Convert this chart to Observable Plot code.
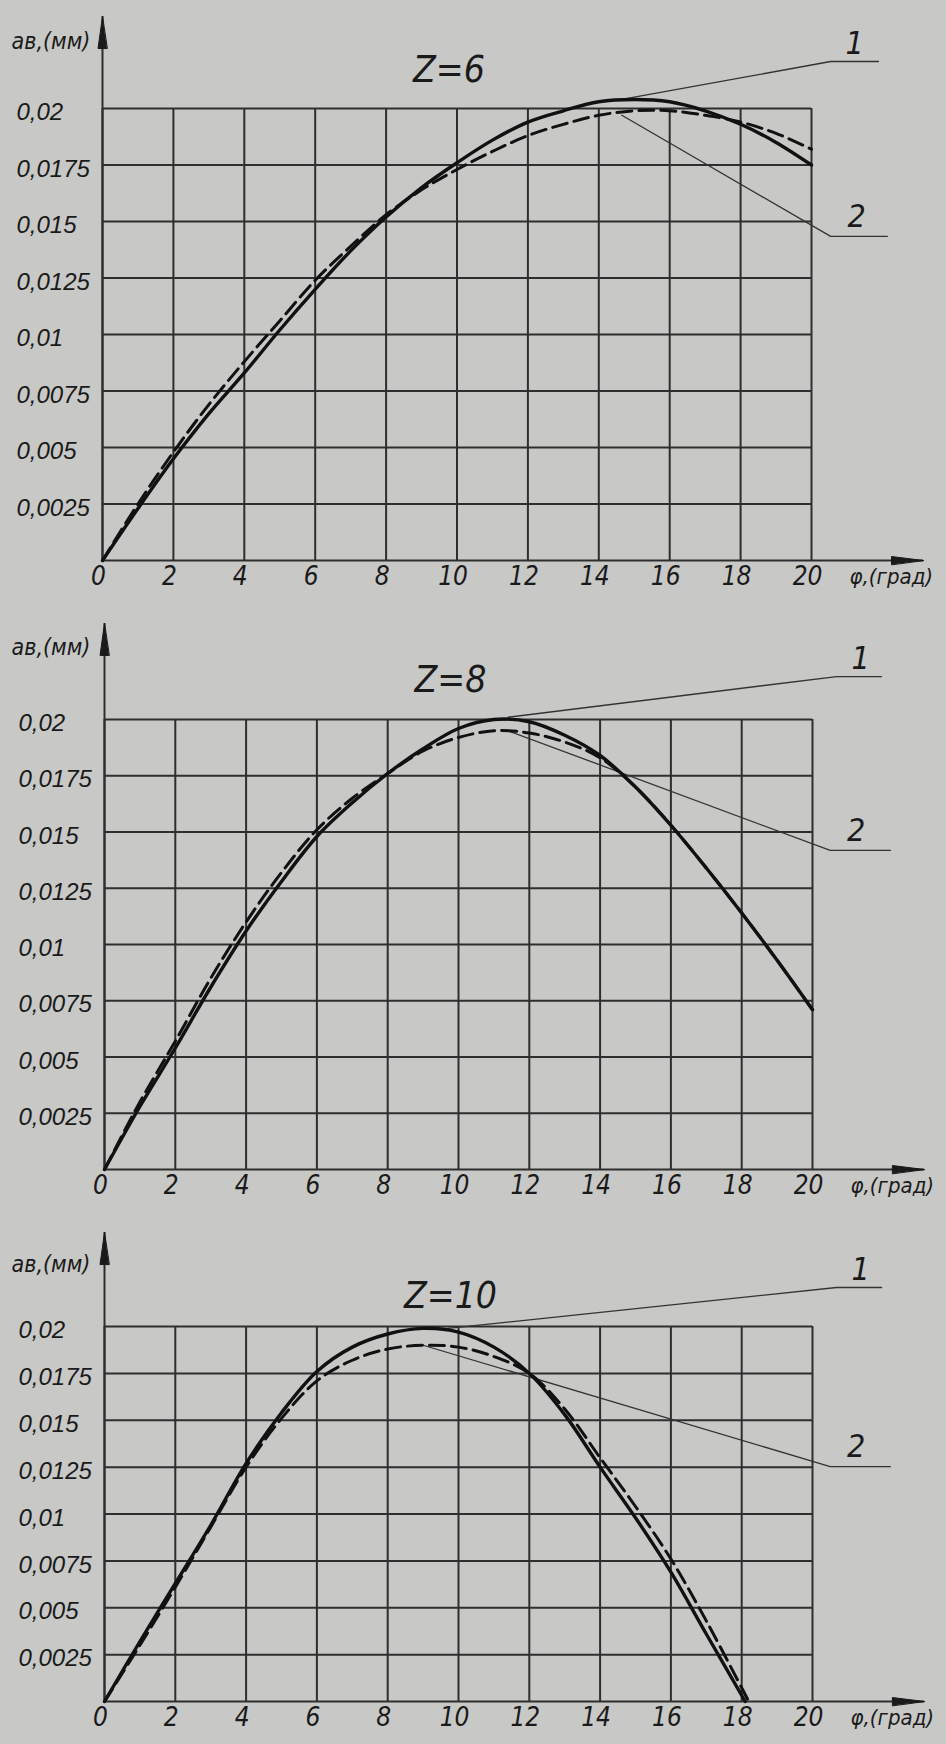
<!DOCTYPE html>
<html><head><meta charset="utf-8">
<script src="https://cdn.jsdelivr.net/npm/d3@7"></script>
<script src="https://cdn.jsdelivr.net/npm/@observablehq/plot@0.6"></script>
<style>
html,body{margin:0;padding:0;background:#c8c8c6;}
#charts{width:946px;}
#charts svg{display:block;}
</style></head><body><div id="charts"></div>
<script>
// ---- tick values and labels ----
const xTicks = [0, 2, 4, 6, 8, 10, 12, 14, 16, 18, 20];
const yTicks = [0.0025, 0.005, 0.0075, 0.01, 0.0125, 0.015, 0.0175, 0.02];
const yTickLabels = ["0,0025", "0,005", "0,0075", "0,01", "0,0125", "0,015", "0,0175", "0,02"];
const titles = ["Z=6", "Z=8", "Z=10"];
const yAxisLabel = "aв,(мм)";
const xAxisLabel = "φ,(град)";
const curveNames = ["1", "2"];

// ---- Z=6 ----
const z6Phi1 = [0,1,2,3,4,5,6,7,8,9,10,11,12,13,14,15,16,17,18,19,20];
const z6Curve1 = [0,0.0023,0.0045,0.0065,0.0083,0.0102,0.0120,0.0137,0.0152,0.0165,0.0176,0.0186,0.0194,0.0199,0.0203,0.0204,0.0203,0.0199,0.0193,0.0185,0.0175];
const z6Phi2 = [0,1,2,3,4,5,6,7,8,9,10,11,12,13,14,15,16,17,18,19,20];
const z6Curve2 = [0,0.0025,0.0048,0.0069,0.0088,0.0106,0.0124,0.0139,0.0153,0.0164,0.0173,0.0181,0.0188,0.0193,0.0197,0.0199,0.0199,0.0197,0.0194,0.0189,0.0182];
const z6Leader1 = [[14.65,0.0204],[20.54,0.02208],[21.89,0.02208]];
const z6Leader2 = [[14.65,0.0197],[20.54,0.01434],[22.14,0.01434]];

// ---- Z=8 ----
const z8Phi1 = [0,1,2,3,4,5,6,7,8,9,10,11,12,13,14,15,16,17,18,19,20];
const z8Curve1 = [0,0.0028,0.0054,0.0081,0.0106,0.0128,0.0148,0.0163,0.0176,0.0187,0.0196,0.0200,0.0199,0.0193,0.0184,0.0170,0.0153,0.0134,0.0114,0.0093,0.0071];
const z8Phi2 = [0,1,2,3,4,5,6,7,8,9,10,11,12,13,14,15,16,17,18,19,20];
const z8Curve2 = [0,0.0030,0.0057,0.0085,0.0110,0.0132,0.0151,0.0165,0.0176,0.0186,0.0192,0.0195,0.0194,0.0190,0.0183,0.0170,0.0153,0.0134,0.0114,0.0093,0.0071];
const z8Leader1 = [[11.4,0.0201],[20.68,0.02191],[21.95,0.02191]];
const z8Leader2 = [[11.4,0.0195],[20.5,0.01418],[22.2,0.01418]];

// ---- Z=10 ----
const z10Phi1 = [0,1,2,3,4,5,6,7,8,9,10,11,12,13,14,15,16,17,18.1];
const z10Curve1 = [0,0.0032,0.0063,0.0094,0.0127,0.0154,0.0176,0.0189,0.0196,0.0199,0.0197,0.0189,0.0175,0.0153,0.0125,0.0098,0.0069,0.0036,0];
const z10Phi2 = [0,1,2,3,4,5,6,7,8,9,10,11,12,13,14,15,16,17,18.2];
const z10Curve2 = [0,0.0030,0.0061,0.0093,0.0125,0.0151,0.0171,0.0182,0.0188,0.0190,0.0189,0.0184,0.0175,0.0156,0.0130,0.0104,0.0076,0.0043,0];
const z10Leader1 = [[9.7,0.0199],[20.68,0.02208],[21.95,0.02208]];
const z10Leader2 = [[9.0,0.0190],[20.5,0.01253],[22.2,0.01253]];

// axis arrow extents (data units)
const xAxisEnd = 23.16;
const yAxisEnds = [0.02407, 0.02427, 0.02501];

const narrow = "'Liberation Sans Narrow','Arial Narrow','DejaVu Sans Condensed',sans-serif";
const regular = "'Liberation Sans',Arial,sans-serif";
const ink = "#1a1a1a";

const arrowHead = {
  draw(ctx, l, r) {
    ctx.moveTo(0, -l);
    ctx.lineTo(-r, 0);
    ctx.lineTo(r, 0);
    ctx.closePath();
  }
};

function zip(xs, ys) { return xs.map((x, i) => ({x, y: ys[i]})); }

function panel(cfg) {
  const s1 = zip(cfg.phi1, cfg.c1);
  const s2 = zip(cfg.phi2, cfg.c2);
  const L1 = cfg.lead1.map(([x, y]) => ({x, y}));
  const L2 = cfg.lead2.map(([x, y]) => ({x, y}));
  const yTop = cfg.yEnd;
  return Plot.plot({
    width: 946,
    height: cfg.height,
    marginTop: cfg.mt, marginBottom: cfg.mb, marginLeft: cfg.ml, marginRight: 946 - cfg.mr,
    x: {domain: [0, 20], axis: null},
    y: {domain: [0, 0.02], axis: null},
    style: {background: "transparent", color: ink, overflow: "visible"},
    marks: [
      Plot.ruleX(xTicks, {stroke: "#2e2e2e", strokeWidth: 2}),
      Plot.ruleY(yTicks, {stroke: "#2e2e2e", strokeWidth: 2}),
      Plot.ruleY([0], {x1: 0, x2: xAxisEnd, stroke: "#2e2e2e", strokeWidth: 2}),
      Plot.ruleX([0], {y1: 0, y2: yTop, stroke: "#2e2e2e", strokeWidth: 2}),
      Plot.vector([{x: 0, y: yTop}], {x: "x", y: "y", length: 32, r: 4.5, anchor: "end", shape: arrowHead, fill: ink, stroke: ink, strokeWidth: 1}),
      Plot.vector([{x: xAxisEnd, y: 0}], {x: "x", y: "y", length: 32, r: 4, rotate: 90, anchor: "end", shape: arrowHead, fill: ink, stroke: ink, strokeWidth: 1}),
      Plot.line(L1, {x: "x", y: "y", stroke: "#333", strokeWidth: 1.3}),
      Plot.line(L2, {x: "x", y: "y", stroke: "#333", strokeWidth: 1.3}),
      Plot.line(s1, {x: "x", y: "y", curve: "catmull-rom", stroke: "#111", strokeWidth: 3.4}),
      Plot.line(s2, {x: "x", y: "y", curve: "catmull-rom", stroke: "#111", strokeWidth: 3, strokeDasharray: "15,7"}),
      Plot.text([curveNames[0]], {x: () => cfg.lead1[1][0], y: () => cfg.lead1[1][1], text: d => d, dx: 24, dy: -18, fontSize: 32, fontStyle: "italic", fontFamily: narrow, fill: ink}),
      Plot.text([curveNames[1]], {x: () => cfg.lead2[1][0], y: () => cfg.lead2[1][1], text: d => d, dx: 26, dy: -20, fontSize: 32, fontStyle: "italic", fontFamily: narrow, fill: ink}),
      Plot.text(xTicks, {x: d => d, text: d => String(d), frameAnchor: "bottom", dy: 24, dx: -4, fontSize: 26, fontStyle: "italic", fontFamily: narrow, fill: ink}),
      Plot.text(yTicks, {y: d => d, text: (d, i) => yTickLabels[i], frameAnchor: "left", textAnchor: "start", dx: -86, dy: 4, fontSize: 24, fontStyle: "italic", fontFamily: regular, fill: ink}),
      Plot.text([cfg.title], {frameAnchor: "top", text: d => d, dx: -8, dy: cfg.titleDy, fontSize: 37, fontStyle: "italic", fontFamily: narrow, fill: ink}),
      Plot.text([yAxisLabel], {frameAnchor: "top-left", text: d => d, textAnchor: "start", dx: 11 - cfg.ml, dy: cfg.ylabDy, fontSize: 23, fontStyle: "italic", fontFamily: narrow, fill: ink}),
      Plot.text([xAxisLabel], {frameAnchor: "bottom-right", text: d => d, textAnchor: "start", dx: 38, dy: 23, fontSize: 22, fontStyle: "italic", fontFamily: narrow, fill: ink})
    ]
  });
}

const root = document.getElementById("charts");
root.append(panel({height: 600, mt: 108, mb: 40, ml: 102, mr: 811, yEnd: yAxisEnds[0], title: titles[0], titleDy: -53, ylabDy: -76,
  phi1: z6Phi1, c1: z6Curve1, phi2: z6Phi2, c2: z6Curve2, lead1: z6Leader1, lead2: z6Leader2}));
root.append(panel({height: 610, mt: 119, mb: 41, ml: 104, mr: 812, yEnd: yAxisEnds[1], title: titles[1], titleDy: -54, ylabDy: -81,
  phi1: z8Phi1, c1: z8Curve1, phi2: z8Phi2, c2: z8Curve2, lead1: z8Leader1, lead2: z8Leader2}));
root.append(panel({height: 534, mt: 116, mb: 43, ml: 104, mr: 812, yEnd: yAxisEnds[2], title: titles[2], titleDy: -45, ylabDy: -71,
  phi1: z10Phi1, c1: z10Curve1, phi2: z10Phi2, c2: z10Curve2, lead1: z10Leader1, lead2: z10Leader2}));
</script></body></html>
